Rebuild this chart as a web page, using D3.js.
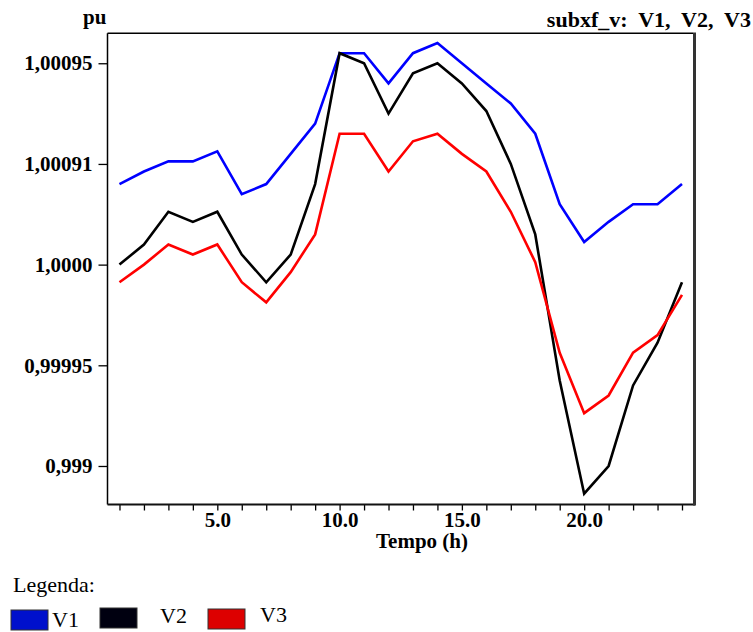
<!DOCTYPE html>
<html>
<head>
  <meta charset="UTF-8">
  <title>subxf_v</title>
  <script src="https://d3js.org/d3.v7.min.js"></script>
  <style>
    body { margin: 0; background: #fff; }
    svg { display: block; }
    text { font-family: "Liberation Serif", "Times New Roman", serif; }
    .axis text { font-size: 21px; font-weight: bold; fill: #000; }
    .axis line { stroke: #000; stroke-width: 1.3; }
  </style>
</head>
<body>
  <svg id="chart" width="753" height="632"></svg>

  <script>
    // horas
    var hours = d3.range(1, 25);

    // tensões (pu)
    var v1 = [1.000902, 1.000907, 1.000911, 1.000911, 1.000915, 1.000898, 1.000902, 1.000914,
              1.000926, 1.000954, 1.000954, 1.000942, 1.000954, 1.000958, 1.000950, 1.000942,
              1.000934, 1.000922, 1.000894, 1.000879, 1.000887, 1.000894, 1.000894, 1.000902];
    var v2 = [1.000870, 1.000878, 1.000891, 1.000887, 1.000891, 1.000874, 1.000863, 1.000874,
              1.000902, 1.000954, 1.000950, 1.000930, 1.000946, 1.000950, 1.000942, 1.000931,
              1.000910, 1.000882, 1.000824, 1.000779, 1.000790, 1.000822, 1.000839, 1.000863];
    var v3 = [1.000863, 1.000870, 1.000878, 1.000874, 1.000878, 1.000863, 1.000855, 1.000867,
              1.000882, 1.000922, 1.000922, 1.000907, 1.000919, 1.000922, 1.000914, 1.000907,
              1.000891, 1.000871, 1.000835, 1.000811, 1.000818, 1.000835, 1.000842, 1.000858];

    // rótulos do eixo y (como aparecem no original)
    var yTicks = [1.00095, 1.00091, 1.00087, 1.00083, 1.00079];
    var yLabels = ["1,00095", "1,00091", "1,0000", "0,99995", "0,999"];
    var xLabelTicks = [5, 10, 15, 20];

    var seriesNames = ["V1", "V2", "V3"];
    var lineColors = ["#0000ff", "#000000", "#ff0000"];
    var legendColors = ["#0010cc", "#000010", "#dd0000"];

    var serif = "'Liberation Serif', 'Times New Roman', serif";
    var plotLeft = 107.5, plotRight = 693, plotTop = 33.3, plotBottom = 504.5;

    var x = d3.scaleLinear().domain([0.51, 24.45]).range([plotLeft, plotRight]);
    var y = d3.scaleLinear().domain([1.0007747, 1.0009619]).range([plotBottom, plotTop]);

    var svg = d3.select("#chart");

    // eixo x
    svg.append("g")
       .attr("class", "axis")
       .attr("transform", "translate(0," + plotBottom + ")")
       .call(d3.axisBottom(x).tickValues(hours).tickSize(6).tickPadding(2)
              .tickFormat(function(d) { return xLabelTicks.indexOf(d) >= 0 ? d3.format(".1f")(d) : ""; }))
       .attr("font-family", serif)
       .attr("font-size", 21)
       .call(function(g) { g.select(".domain").remove(); });

    // eixo y
    svg.append("g")
       .attr("class", "axis")
       .attr("transform", "translate(" + plotLeft + ",0)")
       .call(d3.axisLeft(y).tickValues(yTicks).tickSize(9).tickPadding(6)
              .tickFormat(function(d, i) { return yLabels[i]; }))
       .attr("font-family", serif)
       .attr("font-size", 21)
       .call(function(g) { g.select(".domain").remove(); });

    // moldura
    svg.append("line").attr("x1", plotLeft).attr("x2", plotRight).attr("y1", plotTop).attr("y2", plotTop)
       .attr("stroke", "#000").attr("stroke-width", 1.5);
    svg.append("line").attr("x1", plotLeft).attr("x2", plotLeft).attr("y1", plotTop).attr("y2", plotBottom)
       .attr("stroke", "#000").attr("stroke-width", 1.5);
    svg.append("line").attr("x1", plotLeft).attr("x2", plotRight + 2).attr("y1", plotBottom).attr("y2", plotBottom)
       .attr("stroke", "#111").attr("stroke-width", 2);
    svg.append("line").attr("x1", plotRight + 1.5).attr("x2", plotRight + 1.5).attr("y1", plotTop - 0.7).attr("y2", plotBottom + 1)
       .attr("stroke", "#333").attr("stroke-width", 3);

    // linhas
    var line = d3.line()
                 .x(function(d, i) { return x(hours[i]); })
                 .y(function(d) { return y(d); });

    [v1, v2, v3].forEach(function(s, i) {
      svg.append("path")
         .datum(s)
         .attr("fill", "none")
         .attr("stroke", lineColors[i])
         .attr("stroke-width", 2.6)
         .attr("stroke-linejoin", "miter")
         .attr("d", line);
    });

    // textos
    svg.append("text").attr("x", 83).attr("y", 24)
       .attr("font-family", serif).attr("font-size", 21).attr("font-weight", "bold").text("pu");

    svg.append("text").attr("x", 751).attr("y", 27)
       .attr("text-anchor", "end").attr("font-family", serif).attr("font-size", 22).attr("font-weight", "bold")
       .attr("xml:space", "preserve")
       .text("subxf_v:  V1,  V2,  V3");

    svg.append("text").attr("x", 422).attr("y", 548)
       .attr("text-anchor", "middle").attr("font-family", serif).attr("font-size", 21).attr("font-weight", "bold")
       .text("Tempo (h)");

    // legenda
    svg.append("text").attr("x", 13).attr("y", 592)
       .attr("font-family", serif).attr("font-size", 22).text("Legenda:");

    var legendX = [11, 100, 208];
    var legendY = [610, 608, 609];
    var legendTextX = [52, 160, 260];
    var legendTextY = [627, 623, 622];

    seriesNames.forEach(function(name, i) {
      svg.append("rect")
         .attr("x", legendX[i]).attr("y", legendY[i])
         .attr("width", 37).attr("height", 20)
         .attr("fill", legendColors[i])
         .attr("stroke", "#333").attr("stroke-width", 1);
      svg.append("text")
         .attr("x", legendTextX[i]).attr("y", legendTextY[i])
         .attr("font-family", serif).attr("font-size", 22).text(name);
    });
  </script>
</body>
</html>
